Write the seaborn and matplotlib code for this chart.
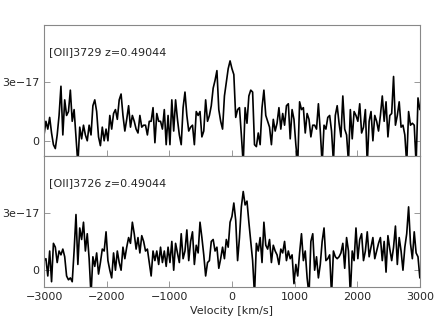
import numpy as np
import pandas as pd
import matplotlib
matplotlib.use("Agg")
import matplotlib.pyplot as plt
import seaborn as sns

# velocity grid (km/s) and flux in units of 1e-17
velocity = np.arange(-3000, 3001, 30)

flux_3729 = [
    0.3, 1.0, 0.6, 1.2, 0.4, -0.2, -0.4, 0.3, 1.3, 2.8,
    0.3, 2.1, 1.3, 1.5, 2.6, 1.0, 1.6, 0.2, -1.2, 0.7,
    0.1, 0.8, 0.3, 0.0, 0.8, 0.3, 1.8, 2.1, 1.5, 0.2,
    -0.25, 0.7, 0.0, 0.6, 0.0, 1.3, 0.6, 1.4, 1.6, 1.1,
    2.1, 2.4, 1.3, 0.5, 1.1, 1.8, 0.7, 1.3, 1.0, 0.6,
    0.4, 1.3, 0.7, 0.8, 0.8, 0.3, 1.0, 1.0, 1.7, -0.1,
    1.4, 1.0, 1.0, 0.6, 1.6, -0.2, 1.3, -0.2, 2.1, 0.5,
    2.1, 1.1, 0.3, -0.2, 1.7, 2.5, 1.3, 0.5, 0.7, 0.8,
    -0.2, 1.5, 1.3, 1.5, 0.2, 0.5, 2.1, 1.0, 1.3, 1.8,
    2.7, 3.1, 3.6, 1.6, 1.0, 0.6, 2.3, 3.0, 3.7, 4.1,
    3.7, 3.4, 1.2, 1.6, 1.7, 0.3, -1.2, 1.7, 0.9, 2.3,
    2.6, 2.5, -0.2, -0.3, 0.4, -0.2, 1.7, 2.6, 1.3, 1.0,
    0.7, -0.2, 1.1, 0.5, 0.9, 1.7, 0.6, 1.4, 0.8, 1.8,
    1.9, 0.1, 1.6, 1.1, -0.2, -1.2, 2.0, 1.6, 1.7, 0.4,
    1.4, 1.1, 0.2, 0.8, 0.8, 0.6, 1.9, 0.5, -1.2, 0.8,
    0.6, 1.2, 1.3, 0.5, -1.1, 1.3, 1.8, 0.9, 0.2, 2.3,
    0.6, 0.3, -1.1, 1.6, 0.1, 1.5, 1.3, 1.0, 1.9, 0.4,
    0.7, 1.6, -1.2, 1.0, 1.5, 0.0, 1.3, 1.0, 0.5, 1.3,
    2.3, 1.0, 2.0, 0.2, 1.3, 1.4, 3.3, 0.8, 1.3, 2.0,
    0.7, 0.8, 0.3, -1.2, 1.5, 0.8, 0.9, 0.8, -1.2, 2.2,
    1.6,
]

flux_3726 = [
    0.5, 0.6, -0.3, 1.0, -0.6, 1.4, 1.2, 0.4, 1.0, 0.8,
    1.1, 0.7, -0.3, -0.5, -0.4, -0.6, 1.0, 2.9, 0.3, 2.2,
    1.6, 2.5, 1.0, 1.9, 0.6, -1.3, 0.7, 0.2, 0.9, -0.2,
    0.4, 1.1, 1.0, 2.0, 0.5, 0.0, -0.4, 0.9, 0.0, 1.0,
    0.4, 0.0, 1.2, 0.6, 1.2, 1.7, 1.4, 2.5, 1.9, 1.1,
    1.7, 0.9, 1.8, 1.5, 1.0, 1.1, 0.4, -0.3, 1.0, 0.5,
    1.0, 0.3, 1.2, 0.4, 1.0, 0.2, 1.2, 0.4, 1.5, 0.0,
    1.4, 0.9, 0.4, 1.9, 0.6, 1.0, 2.1, 0.5, 1.5, 2.0,
    0.3, 1.3, 0.9, 2.5, 1.7, 0.8, -0.3, 0.4, 0.5, 1.5,
    1.6, 1.0, 1.2, 0.1, 0.6, 1.2, 0.6, 1.6, 1.2, 2.5,
    2.8, 3.5, 2.6, 0.5, 1.7, 3.3, 4.1, 3.4, 3.6, 2.5,
    1.5, 0.5, -1.3, 1.4, 1.0, 1.7, 0.4, 2.5, 1.3, 1.1,
    1.6, 0.4, 1.3, 1.0, 0.8, 0.3, 1.1, 0.9, 1.5, 0.5,
    1.0, 0.6, 0.8, -0.7, 0.3, -0.3, 0.9, 1.9, 0.5, 1.0,
    -0.4, -1.3, 1.5, 1.9, 0.0, 0.7, -0.4, 0.3, 1.5, 2.2,
    0.5, 0.6, 0.8, -1.3, 1.0, 0.7, 0.6, 0.7, 0.9, 1.4,
    0.1, 1.7, 1.0, -1.3, 1.0, 0.5, 2.2, 0.6, 1.6, 1.9,
    0.5, 1.0, 2.0, 0.7, 1.2, 1.7, 0.6, 1.0, 1.4, 1.7,
    0.5, 1.5, -0.1, 1.8, 1.1, 0.5, 1.2, 2.3, 0.3, 1.7,
    1.0, 0.0, 1.2, 1.9, 3.3, 1.4, 0.6, 2.0, 0.9, 0.7,
    -0.4,
]

panel_labels = ["[OII]3729 z=0.49044", "[OII]3726 z=0.49044"]
panel_flux = [flux_3729, flux_3726]
panel_ylims = [(-0.78, 5.95), (-0.88, 5.95)]

sns.set_style("ticks")
plt.rcParams["font.family"] = ["DejaVu Sans"]
plt.rcParams["font.size"] = 8

fig = plt.figure(figsize=(4.36, 3.27), dpi=100)
grid = fig.add_gridspec(2, 1, hspace=0, left=0.101, right=0.963, bottom=0.122, top=0.924)
axes = [fig.add_subplot(grid[0, 0]), fig.add_subplot(grid[1, 0])]

for idx, (ax, label, flux, ylim) in enumerate(zip(axes, panel_labels, panel_flux, panel_ylims)):
    df = pd.DataFrame({"velocity": velocity, "flux": np.array(flux) * 1e-17})
    sns.lineplot(data=df, x="velocity", y="flux", ax=ax, color="black", linewidth=1.2)
    ax.set_xlim(-3000, 3000)
    ax.set_ylim(ylim[0] * 1e-17, ylim[1] * 1e-17)
    ax.set_yticks([0, 3e-17])
    ax.set_yticklabels(["0", "3e\u221217"])
    ax.set_xticks([-3000, -2000, -1000, 0, 1000, 2000, 3000])
    ax.tick_params(axis="both", direction="in", length=4, width=0.6,
                   color="#888888", labelsize=8, right=True)
    ax.set_ylabel("")
    for spine in ax.spines.values():
        spine.set_color("#888888")
        spine.set_linewidth(0.8)
    ax.text(0.012, 0.79, label, transform=ax.transAxes, fontsize=8, va="center", ha="left")
    if idx == 0:
        ax.set_xlabel("")
        ax.tick_params(axis="x", labelbottom=False)
    else:
        ax.set_xlabel("Velocity [km/s]", fontsize=8, labelpad=3)

plt.savefig("out.png", dpi=100)
plt.close(fig)
